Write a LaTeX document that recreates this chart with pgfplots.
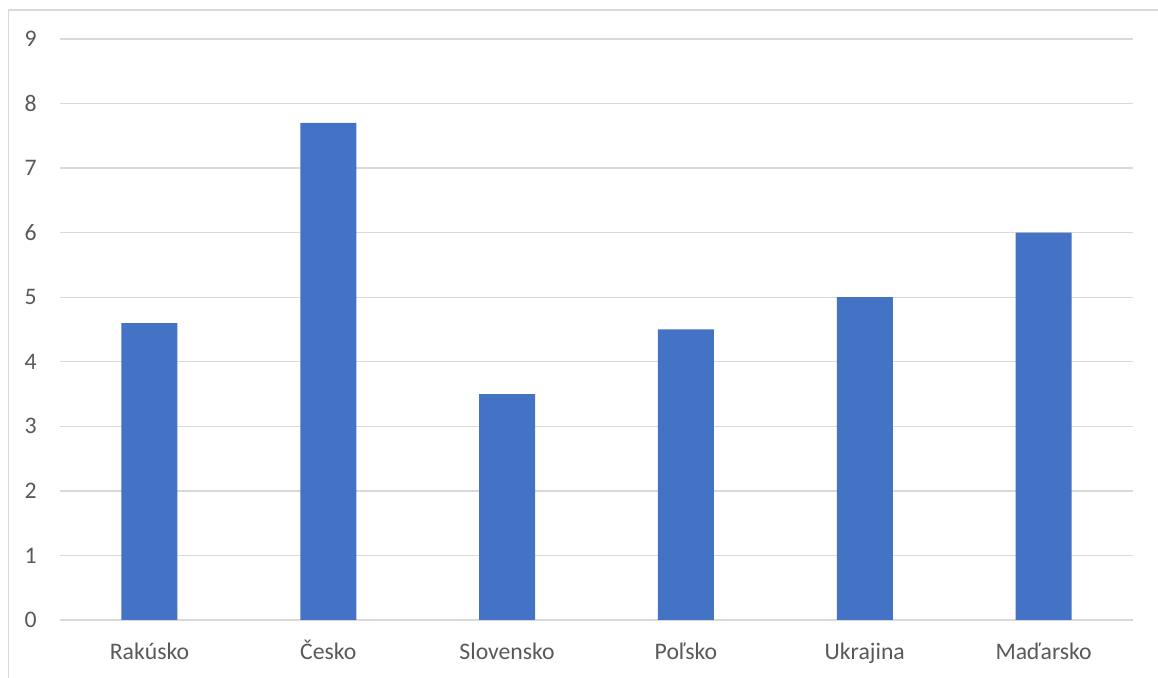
\documentclass[border=0pt]{standalone}
\usepackage{fontspec}
\setmainfont{Carlito}
\usepackage{pgfplots}
\pgfplotsset{compat=1.18}
\definecolor{barblue}{HTML}{4472C4}
\definecolor{gridgray}{HTML}{D9D9D9}
\definecolor{labgray}{HTML}{595959}
\begin{document}
\begin{tikzpicture}
\begin{axis}[
  scale only axis,
  width=804.75pt, height=435.75pt,
  at={(0pt,0pt)}, anchor=south west,
  xmin=-0.5, xmax=5.5,
  ymin=0, ymax=9,
  xtick={0,1,2,3,4,5},
  xticklabels={Rakúsko,Česko,Slovensko,Poľsko,Ukrajina,Maďarsko},
  ytick={0,1,2,3,4,5,6,7,8,9},
  ymajorgrids,
  grid style={gridgray, line width=1pt},
  axis line style={draw=none},
  major tick length=0pt,
  tick style={draw=none},
  /pgf/number format/assume math mode=true,
  ticklabel style={font=\fontsize{17.8}{20}\selectfont, text=labgray},
  xticklabel style={anchor=base, inner sep=0pt, yshift=-30pt},
  yticklabel style={anchor=east, inner sep=0pt, xshift=-17.25pt},
  clip=false,
]
\addplot[ybar, bar width=42pt, fill=barblue, draw=none] coordinates {
  (0,4.6) (1,7.7) (2,3.5) (3,4.5) (4,5.0) (5,6.0)
};
\end{axis}
\draw[gridgray, line width=1pt] (-38.6pt,-43.5pt) -- (-38.6pt,457.5pt) -- (823.5pt,457.5pt);
\pgfresetboundingbox
\useasboundingbox (-45pt,-43.5pt) rectangle (823.5pt,465pt);
\end{tikzpicture}
\end{document}
